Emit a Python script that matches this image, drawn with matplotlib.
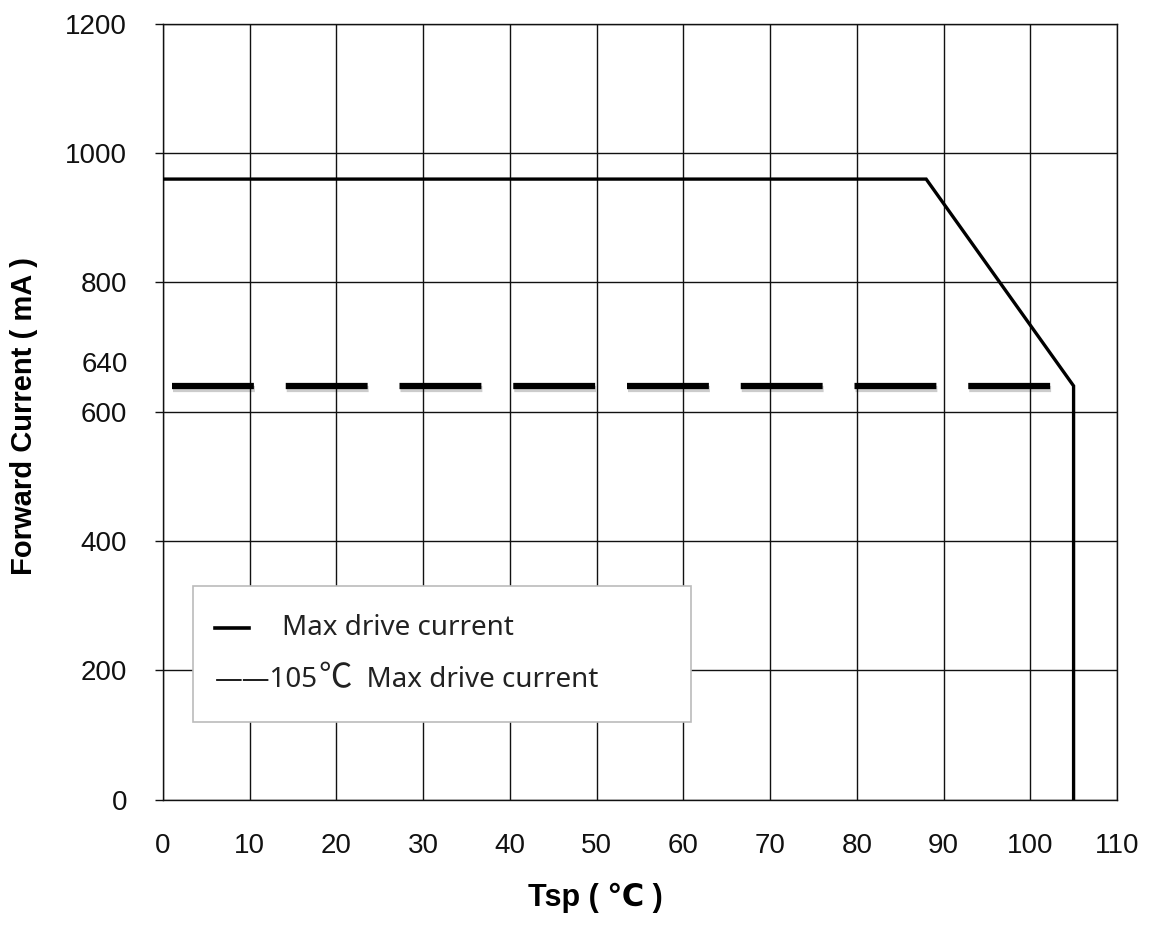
#required imports
import matplotlib
matplotlib.use("Agg")
import matplotlib.pyplot as plt
import matplotlib.patheffects as pe
from matplotlib.patches import Rectangle
from matplotlib.offsetbox import TextArea, HPacker, AnnotationBbox

#data
tsp_max = [0, 88, 105, 105]
cur_max = [960, 960, 640, 0]
tsp_105 = [1, 105]
cur_105 = [640, 640]
x_ticks = list(range(0, 111, 10))
y_ticks = [0, 200, 400, 600, 800, 1000, 1200]

plt.rcParams['font.family'] = ['Liberation Sans', 'DejaVu Sans']

fig = plt.figure(figsize=(11.49, 9.26), dpi=100)
ax = fig.add_axes([0.1419, 0.1366, 0.8302, 0.8375])

#grid
for x in x_ticks:
  ax.axvline(x, color="#111111", lw=1.0, zorder=1)
for y in y_ticks:
  ax.axhline(y, color="#111111", lw=1.0, zorder=1)

#curves
ax.plot(tsp_max, cur_max, color="black", lw=2.4, solid_joinstyle="miter", zorder=4)
dash, = ax.plot(tsp_105, cur_105, color="black", lw=4.5, zorder=3,
                path_effects=[pe.SimpleLineShadow(offset=(0.6, -2.0), shadow_color="black", alpha=0.2),
                              pe.Normal()])
dash.set_dashes((13.1, 5.1))

ax.set_xlim(0, 110)
ax.set_ylim(0, 1200)
ax.set_xticks(x_ticks)
ax.set_yticks(y_ticks)
ax.tick_params(axis="x", length=0, pad=24, labelsize=20, colors="#111111")
ax.tick_params(axis="y", length=6, width=1, pad=20, labelsize=20, colors="#111111")
for s in ax.spines.values():
  s.set_linewidth(1.0)
  s.set_color("#111111")

#extra 640 label
ax.annotate("640", xy=(0, 640), xycoords=("axes fraction", "data"),
            xytext=(-25, 15), textcoords="offset points",
            ha="right", va="center", fontsize=20, color="#111111")

#axis labels
ax.set_xlabel("Tsp ( ℃ )", fontsize=22, fontweight="bold")
ax.xaxis.set_label_coords(0.453, -0.108)
ax.set_ylabel("Forward Current ( mA )", fontsize=21, fontweight="bold")
ax.yaxis.set_label_coords(-0.131, 0.495)

#legend box drawn by hand
box = Rectangle((0.0315, 0.1), 0.5217, 0.1754, transform=ax.transAxes,
                facecolor="white", edgecolor="#bbbbbb", lw=1.2, zorder=5)
ax.add_patch(box)
ax.plot([0.0545, 0.0902], [0.221, 0.221], transform=ax.transAxes, color="black", lw=2.6, zorder=6)
leg_font = ['Noto Sans', 'DejaVu Sans']
cjk_font = ['Noto Sans CJK SC', 'DejaVu Sans']
ax.text(0.1249, 0.221, "Max drive current", transform=ax.transAxes, fontsize=20,
        va="center", ha="left", family=leg_font, color="#222222", zorder=6)

row2 = HPacker(children=[
  TextArea("——105", textprops=dict(fontsize=20, family=leg_font, color="#222222")),
  TextArea("℃", textprops=dict(fontsize=24, family=cjk_font, color="#222222")),
  TextArea("  Max drive current", textprops=dict(fontsize=20, family=leg_font, color="#222222")),
], align="baseline", pad=0, sep=0)
ab = AnnotationBbox(row2, (0.0545, 0.157), xycoords="axes fraction", box_alignment=(0, 0.5),
                    frameon=False, pad=0, zorder=6)
ax.add_artist(ab)

plt.savefig("out.png", dpi=100)
